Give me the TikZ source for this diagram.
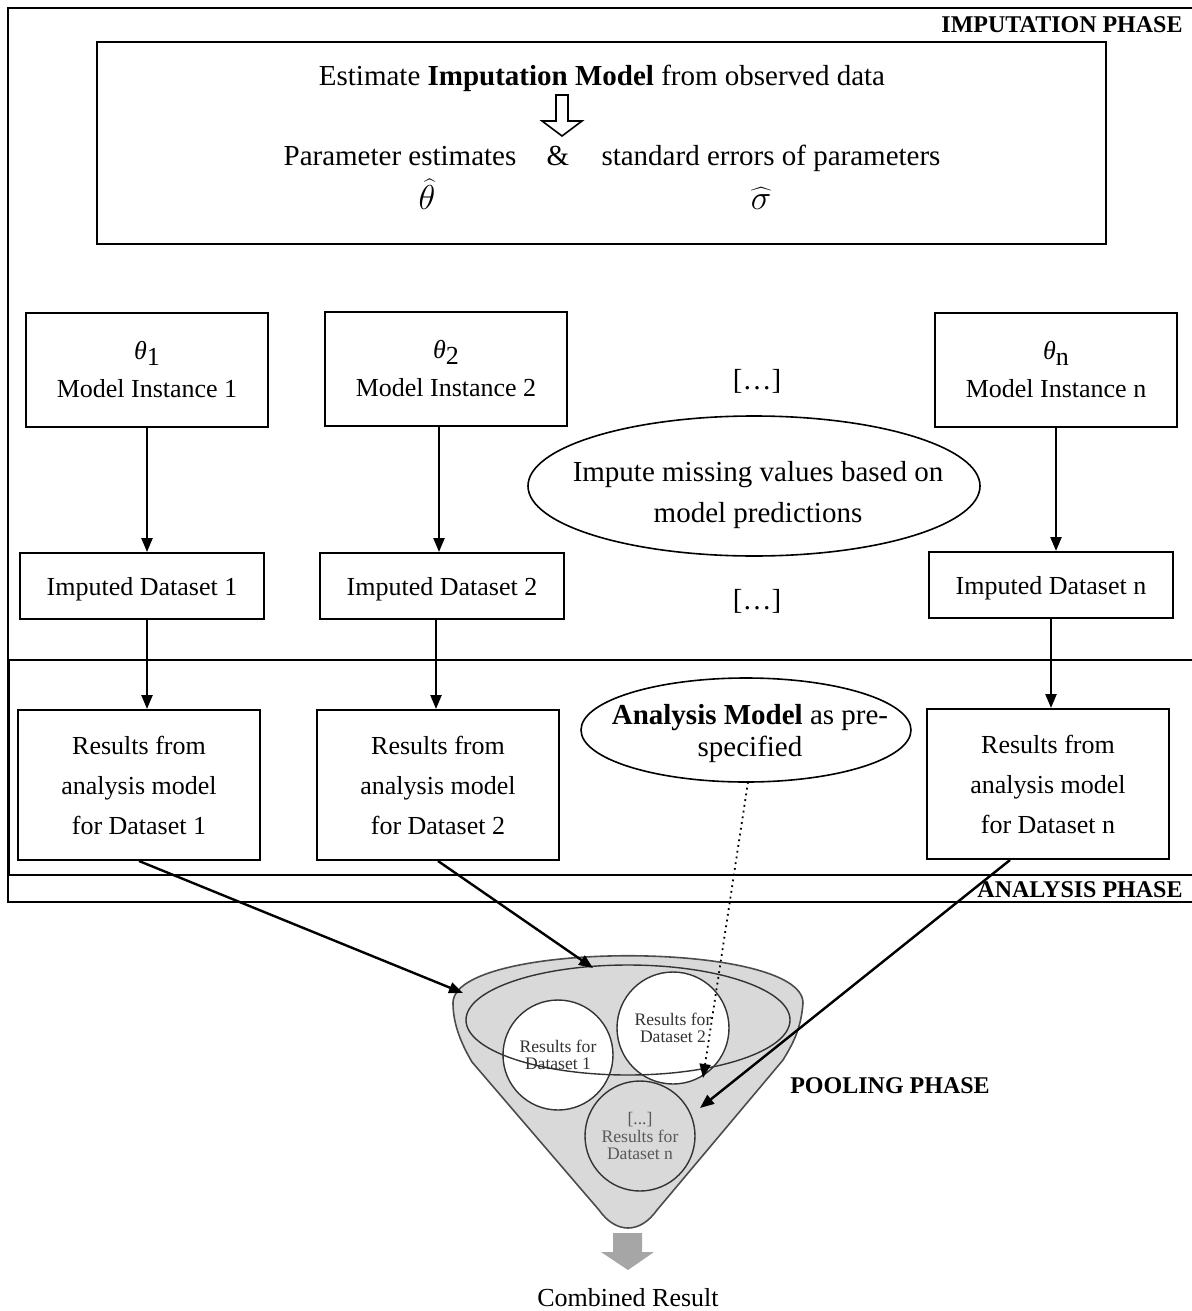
\documentclass[tikz,border=0pt]{standalone}
\usepackage{fontspec}
\setmainfont{Liberation Serif}
\usetikzlibrary{arrows.meta,shapes.geometric}

\begin{document}
\begin{tikzpicture}[x=0.5pt,y=-0.5pt,>={Triangle[length=7pt,width=5.5pt]},
  box/.style={draw,line width=1pt,align=center,inner sep=0pt},
  inst/.style={box,minimum width=121pt,minimum height=57pt,font=\fontsize{13}{19}\selectfont},
  impd/.style={box,minimum width=122pt,minimum height=33pt,font=\fontsize{13}{16}\selectfont},
  res/.style={box,minimum width=121pt,minimum height=75pt,font=\fontsize{13}{20}\selectfont},
  oval/.style={draw,line width=0.8pt},
  ball/.style={circle,draw=black!80,line width=0.7pt,minimum size=55pt,inner sep=0pt,align=center,
               font=\fontsize{8.8}{8.8}\selectfont,text=black!80},
  phase/.style={font=\bfseries\fontsize{12}{14}\selectfont,inner sep=0pt},
  big/.style={font=\fontsize{14.5}{17}\selectfont,inner sep=0pt},
  flow/.style={->,line width=1.2pt}]
  \useasboundingbox (0,0) rectangle (1192,1311);
  \clip (0,0) rectangle (1192,1311);

  % phase frames
  \draw[line width=1pt] (8,8) rectangle (1210,902);
  \draw[line width=1pt] (9,660) rectangle (1210,875);
  \node[phase,anchor=east] (impphase) at (1183,25) {IMPUTATION PHASE};
  \node[phase,anchor=east] (anaphase) at (1183,890) {ANALYSIS PHASE};
  \node[phase] (poolphase) at (890,1086) {POOLING PHASE};

  % imputation model
  \node[box,minimum width=504.5pt,minimum height=101pt] (estbox) at (601.5,143) {};
  \node[big,anchor=base] (esttxt) at (602,86) {Estimate \textbf{Imputation Model} from observed data};
  \draw[line width=0.8pt,fill=white] (556,95) -- (568,95) -- (568,121) -- (582,121)
       -- (562,136) -- (542,121) -- (556,121) -- cycle;
  \node[big,anchor=base] (pest) at (400,165) {Parameter estimates};
  \node[big,anchor=base] (amp) at (558,165) {\&};
  \node[big,anchor=base] (serr) at (771,165) {standard errors of parameters};
  \node[font=\fontsize{16}{17}\selectfont,inner sep=0pt,anchor=base] (thhat) at (427,209) {$\widehat{\theta}$};
  \node[font=\fontsize{16}{17}\selectfont,inner sep=0pt,anchor=base] (sghat) at (761,209) {$\widehat{\sigma}$};

  % model instances
  \node[inst] (inst1) at (147,370) {\textit{θ}\raisebox{-3pt}{1}\\Model Instance 1};
  \node[inst] (inst2) at (446,369) {\textit{θ}\raisebox{-3pt}{2}\\Model Instance 2};
  \node[inst] (instn) at (1056,370) {\textit{θ}\raisebox{-3pt}{n}\\Model Instance n};
  \node[big] (dots1) at (757,381) {[\ldots]};
  \draw[oval] (754,486) ellipse [x radius=226,y radius=70];
  \node[align=center,inner sep=0pt,font=\fontsize{14.5}{20.5}\selectfont]
       (impute) at (758,495) {Impute missing values based on\\model predictions};
  \node[big] (dots2) at (757,601) {[\ldots]};

  % imputed datasets
  \node[impd,text depth=0pt] (imp1) at (142,586) {Imputed Dataset 1};
  \node[impd,text depth=0pt] (imp2) at (442,586) {Imputed Dataset 2};
  \node[impd,text depth=0pt] (impn) at (1051,585) {Imputed Dataset n};

  \draw[flow] (inst1.south) -- (inst1.south |- imp1.north);
  \draw[flow] (inst2.south) ++(-7,0) coordinate (i2s) -- (i2s |- imp2.north);
  \draw[flow] (instn.south) -- (instn.south |- impn.north);

  % analysis
  \node[res] (res1) at (139,785) {Results from\\analysis model\\for Dataset 1};
  \node[res] (res2) at (438,785) {Results from\\analysis model\\for Dataset 2};
  \node[res] (resn) at (1048,784) {Results from\\analysis model\\for Dataset n};
  \draw[oval] (746,730) ellipse [x radius=165,y radius=52];
  \coordinate (anls) at (748,782);
  \node[align=center,inner sep=0pt,font=\fontsize{14.5}{16}\selectfont]
       (anl) at (750,734) {\textbf{Analysis Model} as pre-\\specified};

  \draw[flow] (imp1.south) ++(5,0) coordinate (d1s) -- (d1s |- res1.north);
  \draw[flow] (imp2.south) ++(-6,0) coordinate (d2s) -- (d2s |- res2.north);
  \draw[flow] (impn.south) -- (impn.south |- resn.north);

  % pooling funnel
  \draw[black!70,line width=0.8pt,fill=black!15] (453,1003) .. controls (453,940) and (803,940) .. (803,1003)
       .. controls (801,1030) and (792,1045) .. (783,1060) -- (657,1210)
       .. controls (640,1234) and (616,1234) .. (599,1210) -- (472,1062)
       .. controls (462,1045) and (453,1025) .. (453,1003) -- cycle;
  \node[ball,fill=white] (pool1) at (558,1055) {Results for\\Dataset 1};
  \node[ball,fill=white,minimum size=56pt] (pool2) at (673,1028) {Results for\\Dataset 2};
  \draw[black!80,line width=0.7pt] (628,1020) ellipse [x radius=162,y radius=55];
  \node[ball,text=black!65] (pooln) at (640,1136) {[...]\\Results for\\Dataset n};

  \coordinate (fin1) at (463,993);
  \coordinate (fin2) at (593,968);
  \coordinate (finn) at (700,1108);
  \coordinate (fdot) at (703,1078);
  \draw[flow] (res1.south) -- (fin1);
  \draw[flow] (res2.south) -- (fin2);
  \draw[flow] ([xshift=-19pt]resn.south) -- (finn);
  \draw[->,dotted,line width=0.9pt] (anls) -- (fdot);

  % combined result
  \fill[black!35] (613,1233) -- (642,1233) -- (642,1252) -- (654,1252) -- (628,1270)
       -- (601,1252) -- (613,1252) -- cycle;
  \node[font=\fontsize{13}{15}\selectfont] (comb) at (628,1298) {Combined Result};
\end{tikzpicture}
\end{document}
